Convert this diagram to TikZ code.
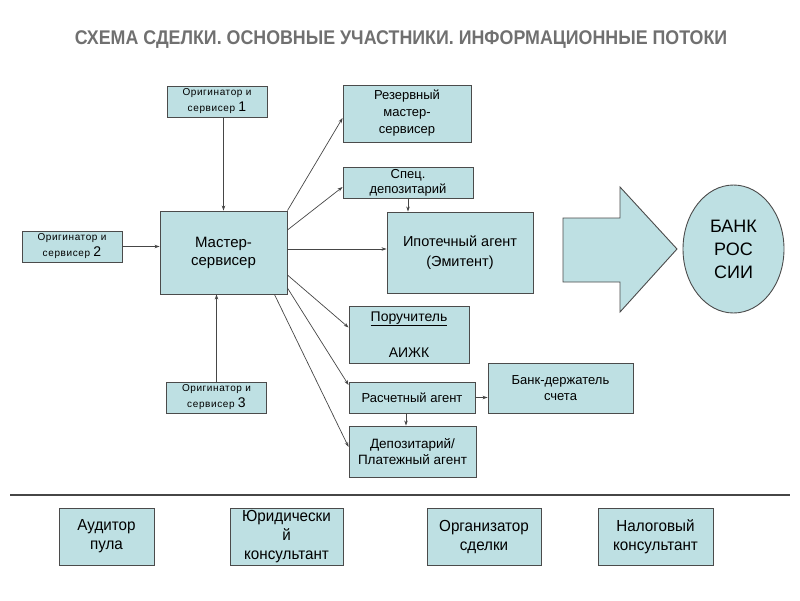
\documentclass[tikz,border=0pt]{standalone}
\usepackage{fontspec}
\setmainfont{Liberation Sans}
\newfontfamily\narrowfont[FakeStretch=0.95]{Liberation Sans}
\newfontfamily\titlefont[FakeStretch=0.9]{Liberation Sans}
\newfontfamily\spacedfont[LetterSpace=6]{Liberation Sans}
\usetikzlibrary{shapes.geometric,arrows.meta}
\definecolor{boxfill}{RGB}{190,224,227}
\definecolor{boxline}{RGB}{75,75,75}
\definecolor{titlegray}{RGB}{112,112,112}
\definecolor{linegray}{RGB}{70,70,70}
\tikzset{
  box/.style={draw=boxline, fill=boxfill, line width=0.9pt, align=center, inner sep=0pt},
  orig/.style={box, minimum width=100pt, minimum height=31pt, font=\spacedfont\fontsize{10}{16}\selectfont},
  bottombox/.style={box, minimum height=57pt, font=\narrowfont\fontsize{16}{19}\selectfont},
  arr/.style={draw=linegray, line width=0.7pt, -{Stealth[length=5pt,width=3.5pt]}},
}
\newcommand{\bignum}[1]{{\fontspec{Liberation Sans}\fontsize{14}{16}\selectfont #1}}
\begin{document}
\begin{tikzpicture}[x=1pt,y=-1pt]
\useasboundingbox (0,0) rectangle (800,600);
\node[font=\titlefont\bfseries\fontsize{19.8}{22}\selectfont, text=titlegray, inner sep=0pt] (title) at (401,40) {СХЕМА СДЕЛКИ. ОСНОВНЫЕ УЧАСТНИКИ. ИНФОРМАЦИОННЫЕ ПОТОКИ};

\node[orig] (o1) at (217,101.5) {Оригинатор и\\сервисер \bignum{1}};
\node[orig] (o2) at (72,246.5) {Оригинатор и\\сервисер \bignum{2}};
\node[orig] (o3) at (216.5,397.5) {Оригинатор и\\сервисер \bignum{3}};

\node[box, minimum width=127pt, minimum height=83pt, font=\fontsize{15}{18}\selectfont] (m) at (223.5,252.5) {Мастер-\\сервисер};
\node[box, minimum width=128pt, minimum height=57pt, font=\fontsize{13}{17}\selectfont] (rez) at (407,113.5) {Резервный\\мастер-\\сервисер};
\node[box, minimum width=130pt, minimum height=31pt, font=\fontsize{13}{15}\selectfont] (spec) at (408,182.5) {Спец.\\депозитарий};
\node[box, minimum width=146pt, minimum height=81pt, font=\fontsize{14.5}{20}\selectfont] (ipo) at (460,252.5) {Ипотечный агент\\(Эмитент)};
\node[box, minimum width=120pt, minimum height=57pt, font=\fontsize{14}{18}\selectfont] (por) at (409,334.5) {\underline{Поручитель}\\[18pt]АИЖК};
\node[box, minimum width=126pt, minimum height=31pt, font=\fontsize{13}{16}\selectfont] (ras) at (412,397.5) {Расчетный агент};
\node[box, minimum width=145pt, minimum height=50pt, font=\fontsize{13}{16}\selectfont] (bank) at (560.5,388) {Банк-держатель\\счета};
\node[box, minimum width=127pt, minimum height=51pt, font=\fontsize{13.5}{16}\selectfont] (dep) at (412.5,451.5) {Депозитарий/\\Платежный агент};

% big arrow
\draw[draw=boxline, fill=boxfill, line width=0.9pt] (563,218) -- (620,218) -- (620,187) -- (677,249) -- (620,312) -- (620,282) -- (563,282) -- cycle;
\node[ellipse, draw=boxline, fill=boxfill, line width=0.9pt, minimum width=101pt, minimum height=128pt, inner sep=0pt, align=center, font=\fontsize{18}{23}\selectfont] (cb) at (733.5,249) {БАНК\\РОС\\СИИ};

% connectors
\draw[arr] (o1.south -| m.north) -- (m.north);
\draw[arr] (o2.east) -- (o2.east -| m.west);
\draw[arr] (o3.north) -- (o3.north |- m.south);
\draw[arr] (m.north east) -- ([yshift=-4.5pt]rez.west);
\draw[arr] ([yshift=22.5pt]m.east) -- ([yshift=-4.5pt]spec.west);
\draw[arr] ([yshift=3.5pt]m.east) -- ([yshift=3.5pt]ipo.west);
\draw[arr] ([yshift=-22.5pt]m.east) -- ([yshift=7pt]por.west);
\draw[arr] ([yshift=-35.5pt]m.east) -- ([yshift=12.5pt]ras.west);
\draw[arr] ([xshift=-13pt]m.south east) -- ([yshift=4.5pt]dep.west);
\draw[arr] (spec.south) -- (spec.south |- ipo.north);
\draw[arr] (ras.east) -- (ras.east -| bank.west);
\draw[arr] ([xshift=-6pt]ras.south) -- ([xshift=-6pt]ras.south |- dep.north);

% separator
\coordinate (sepL) at (10,495);
\coordinate (sepR) at (790,495);
\draw[draw=linegray, line width=2pt] (sepL) -- (sepR);

\node[bottombox, minimum width=95pt] (aud) at (106.5,536.5) {Аудитор\\пула};
\node[bottombox, minimum width=113pt] (yur) at (286.5,536.5) {Юридически\\й\\консультант};
\node[bottombox, minimum width=114pt] (org) at (484,536.5) {Организатор\\сделки};
\node[bottombox, minimum width=115pt] (tax) at (655.5,536.5) {Налоговый\\консультант};
\end{tikzpicture}
\end{document}
